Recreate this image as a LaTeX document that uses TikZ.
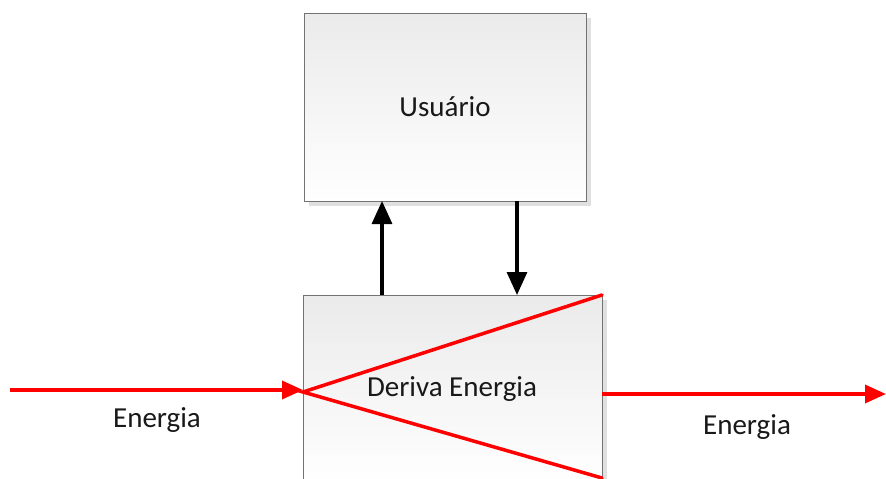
\documentclass[tikz,border=0pt]{standalone}
\usepackage{fontspec}
\setmainfont{Carlito}
\usetikzlibrary{arrows.meta,shadows,calc}
\begin{document}
\begin{tikzpicture}[x=1pt,y=-1pt,
  box/.style={draw=black!55, line width=1.2pt, top color=black!8, bottom color=white,
    drop shadow={shadow xshift=4pt, shadow yshift=-4pt, fill=black!12, opacity=1}},
  lbl/.style={font=\fontsize{29}{32}\selectfont, text=black!90, inner sep=0pt},
  blk/.style={line width=3.2pt, -{Triangle[length=23pt,width=20pt]}},
  redl/.style={red, line width=3.5pt},
  reda/.style={redl, -{Triangle[length=21pt,width=18pt]}}]
\useasboundingbox (0,0) rectangle (886,479);
\clip (0,0) rectangle (886,479);
\fill[white] (0,0) rectangle (886,479);
\node[box, anchor=north west, minimum width=282pt, minimum height=188pt, inner sep=0pt] (user) at (304,13) {};
\node[lbl] (usert) at (445,107) {Usuário};
\node[box, anchor=north west, minimum width=299pt, minimum height=190pt, inner sep=0pt] (der) at (303,295) {};
\coordinate (apex) at (303,392);
\coordinate (tr) at (602,295);
\coordinate (br) at (602,478);
\draw[redl, line cap=round] (tr) -- (apex) -- (br);
\node[lbl] (dert) at (452,389) {Deriva Energia};
\coordinate (upS) at (382,295);
\coordinate (upE) at (382,201);
\coordinate (dnS) at (517,201);
\coordinate (dnE) at (517,295);
\draw[blk] (upS) -- (upE);
\draw[blk] (dnS) -- (dnE);
\coordinate (inS) at (10,390);
\coordinate (outS) at (602,394);
\coordinate (outE) at (886,394);
\draw[reda] (inS) -- (apex |- inS);
\draw[reda] (outS) -- (outE);
\node[lbl] (e1) at (157,420) {Energia};
\node[lbl] (e2) at (747,427) {Energia};
\end{tikzpicture}
\end{document}
